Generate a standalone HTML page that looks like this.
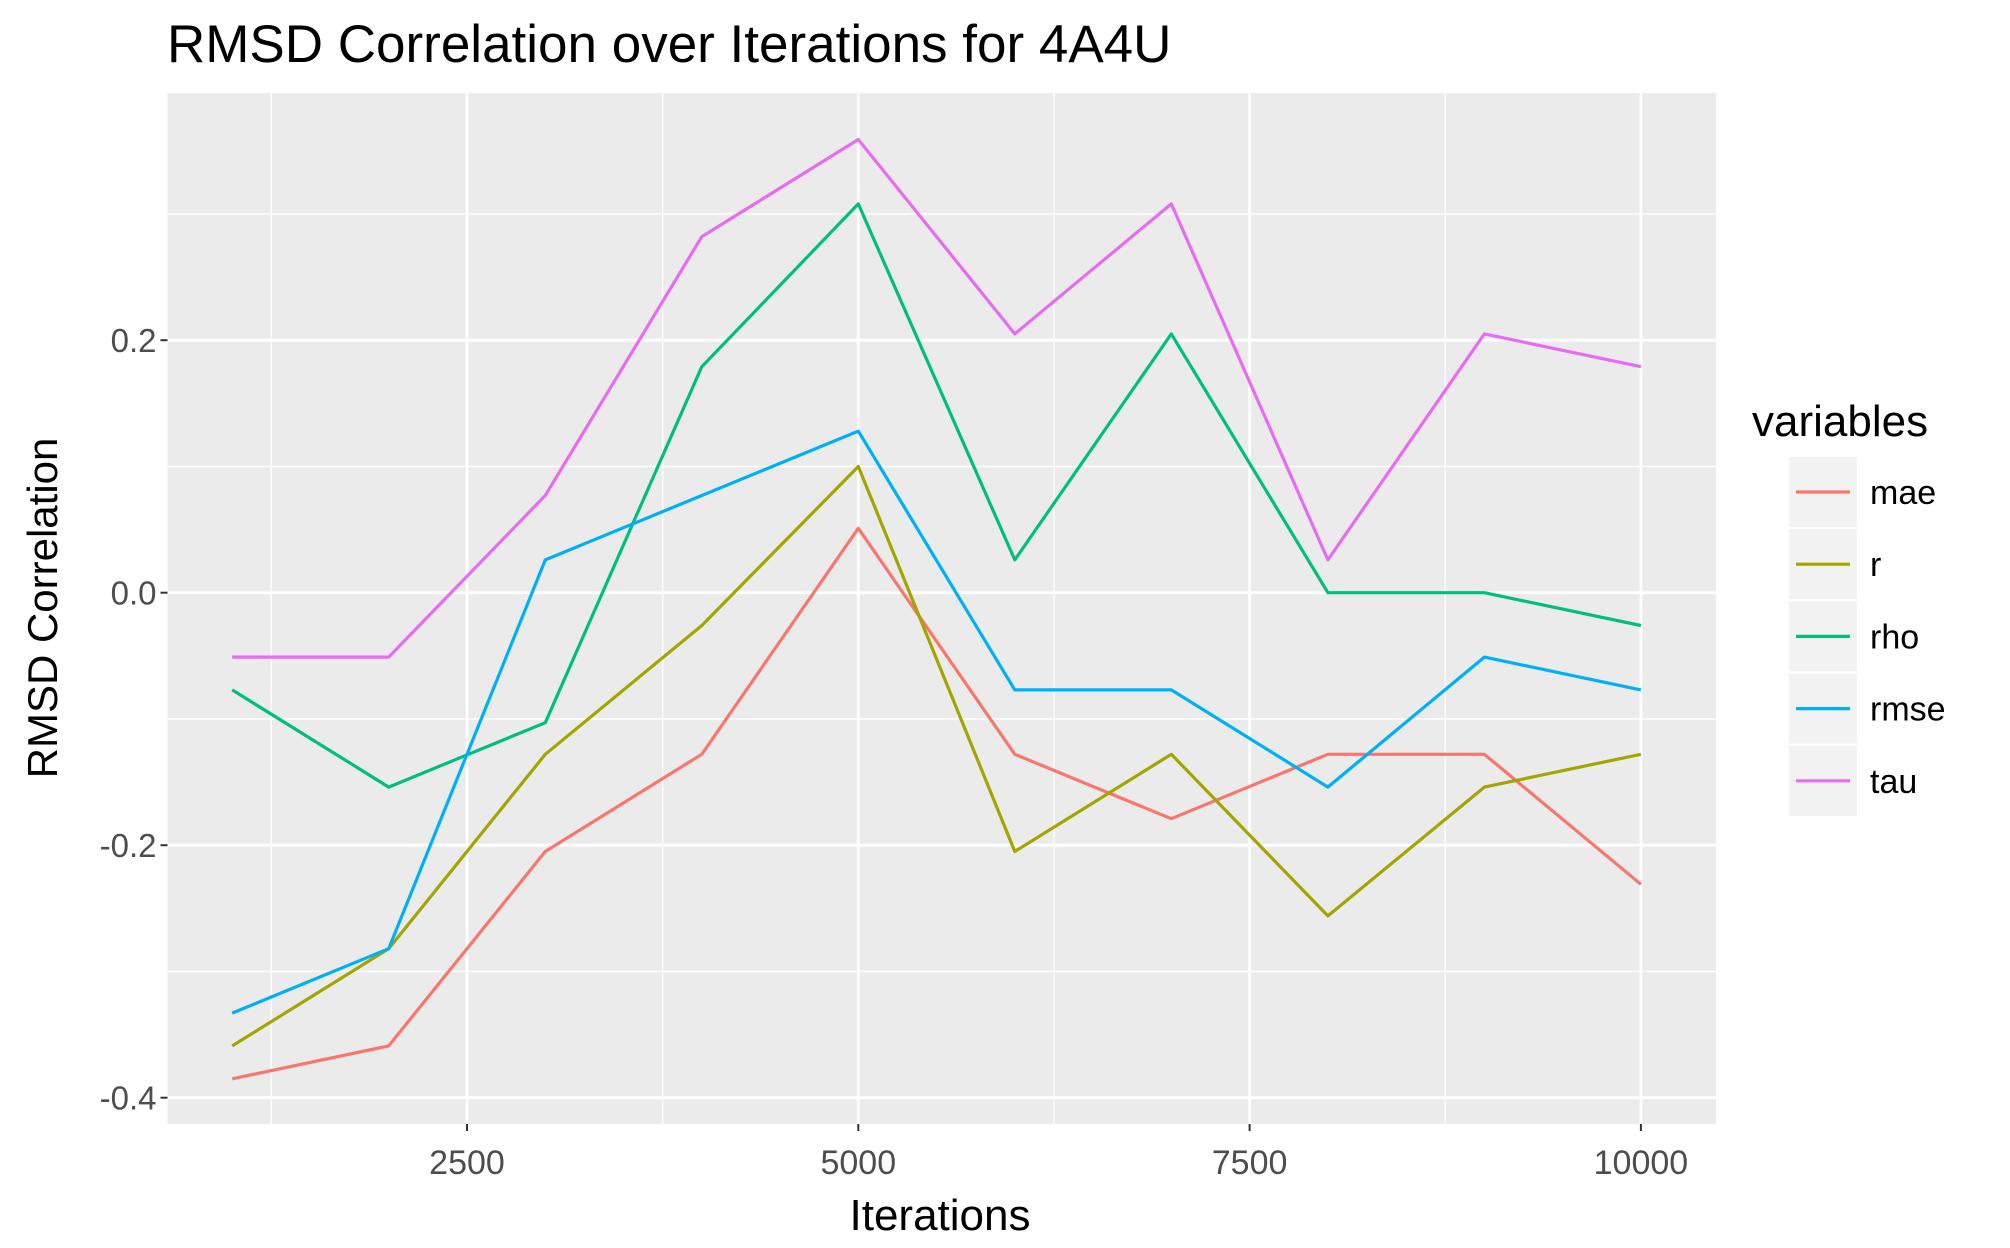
<!DOCTYPE html>
<html><head><meta charset="utf-8"><style>
html,body{margin:0;padding:0;background:#fff;}
svg{display:block;font-family:"Liberation Sans",Arial,sans-serif;}
</style></head><body>
<svg id="chart" width="2010" height="1248" viewBox="0 0 2010 1248">
<text x="167" y="62" font-size="53" fill="#000">RMSD Correlation over Iterations for 4A4U</text>
<rect x="167.5" y="93" width="1548.5" height="1031" fill="#ebebeb"/>
<g id="grid"></g>
<g id="series"></g>
<g id="axes"></g>
<text x="940" y="1230" font-size="44" text-anchor="middle" fill="#000">Iterations</text>
<text transform="translate(57,608) rotate(-90)" font-size="42" text-anchor="middle" fill="#000">RMSD Correlation</text>
<g id="legend"></g>
</svg>
<script>
const iterations = [1000,2000,3000,4000,5000,6000,7000,8000,9000,10000];
const seriesNames = ["mae","r","rho","rmse","tau"];
const mae  = [-0.385,-0.359,-0.205,-0.128,0.051,-0.128,-0.179,-0.128,-0.128,-0.231];
const rVals= [-0.359,-0.282,-0.128,-0.026,0.100,-0.205,-0.128,-0.256,-0.154,-0.128];
const rho  = [-0.077,-0.154,-0.103,0.179,0.308,0.026,0.205,0.000,0.000,-0.026];
const rmse = [-0.333,-0.282,0.026,0.077,0.128,-0.077,-0.077,-0.154,-0.051,-0.077];
const tau  = [-0.051,-0.051,0.077,0.282,0.359,0.205,0.308,0.026,0.205,0.179];
const xTicks = [2500,5000,7500,10000];
const xMinor = [1250,3750,6250,8750];
const yTicks = [-0.4,-0.2,0.0,0.2];
const yMinor = [-0.3,-0.1,0.1,0.3];
const yTickLabels = ["-0.4","-0.2","0.0","0.2"];
const colors = ["#F8766D","#A3A500","#00BF7D","#00B0F6","#E76BF3"];

const NS="http://www.w3.org/2000/svg";
function xs(v){return 467+(v-2500)*(391.3/2500);}
function ys(v){return 592.7-v*1262.5;}
function mk(tag,attrs,parent){const e=document.createElementNS(NS,tag);for(const k in attrs)e.setAttribute(k,attrs[k]);parent.appendChild(e);return e;}
const L=167.5,R=1716,T=93,B=1124;
const grid=document.getElementById('grid');
yMinor.forEach(v=>{const e=mk('line',{x1:L,x2:R,y1:ys(v),y2:ys(v),stroke:'#fff','stroke-width':1.3},grid);

});
xMinor.forEach(v=>{const e=mk('line',{x1:xs(v),x2:xs(v),y1:T,y2:B,stroke:'#fff','stroke-width':1.3},grid);

});
yTicks.forEach(v=>{const e=mk('line',{x1:L,x2:R,y1:ys(v),y2:ys(v),stroke:'#fff','stroke-width':2.8},grid);

});
xTicks.forEach(v=>{const e=mk('line',{x1:xs(v),x2:xs(v),y1:T,y2:B,stroke:'#fff','stroke-width':2.8},grid);

});
const axes=document.getElementById('axes');
yTicks.forEach((v,i)=>{
 const t=mk('line',{x1:L-7,x2:L,y1:ys(v),y2:ys(v),stroke:'#333','stroke-width':2},axes);
 
 
 const tx=mk('text',{x:L-11,y:ys(v)+12,'font-size':33,'text-anchor':'end',fill:'#4d4d4d'},axes);
 tx.textContent=yTickLabels[i];
 
 
});
xTicks.forEach(v=>{
 const t=mk('line',{x1:xs(v),x2:xs(v),y1:B,y2:B+7,stroke:'#333','stroke-width':2},axes);
 
 
 const tx=mk('text',{x:xs(v),y:B+50,'font-size':34,'text-anchor':'middle',fill:'#4d4d4d'},axes);
 tx.textContent=String(v);
 
 
});
const data=[mae,rVals,rho,rmse,tau];
const sg=document.getElementById('series');
data.forEach((arr,i)=>{
 const pts=arr.map((v,j)=>xs(iterations[j]).toFixed(1)+','+ys(v).toFixed(1)).join(' ');
 const p=mk('polyline',{points:pts,fill:'none',stroke:colors[i],'stroke-width':3.2,'stroke-linejoin':'round'},sg);
 
 
});
const lg=document.getElementById('legend');
const tt=mk('text',{x:1752,y:436,'font-size':44,fill:'#000'},lg);
tt.textContent='variables';


seriesNames.forEach((n,i)=>{
 const y0=457+i*72.2;
 const g=mk('g',{},lg);
 
 
 mk('rect',{x:1789,y:y0,width:68,height:70,fill:'#f2f2f2'},g);
 mk('line',{x1:1796,x2:1850,y1:y0+35,y2:y0+35,stroke:colors[i],'stroke-width':3.2},g);
 const t=mk('text',{x:1870,y:y0+47,'font-size':34,fill:'#000'},g);
 t.textContent=n;
});
</script>
</body></html>
